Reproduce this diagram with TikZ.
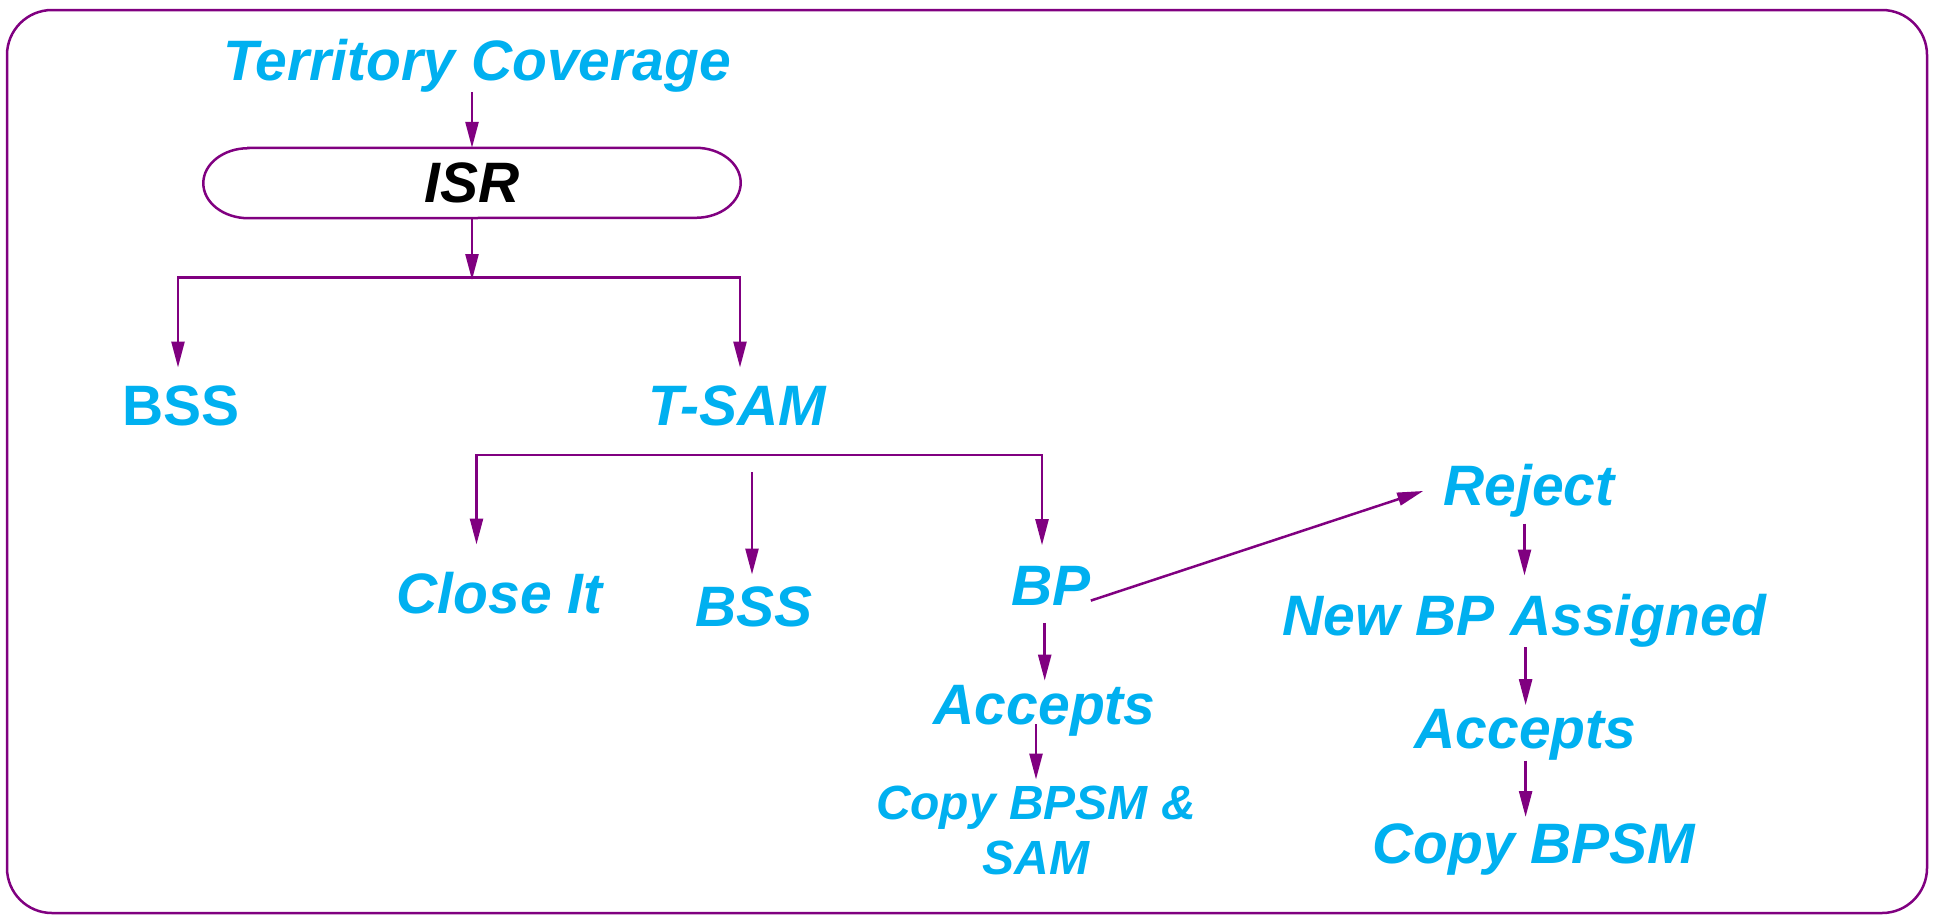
\documentclass[tikz,border=0pt]{standalone}
\usepackage{fontspec}
\setmainfont{Liberation Sans}
\usetikzlibrary{arrows.meta,calc}
\definecolor{pur}{HTML}{800080}
\definecolor{cy}{HTML}{00B0F0}
\begin{document}
\begin{tikzpicture}[x=1pt,y=1pt,
  ln/.style={draw=pur,line width=2.5pt},
  arr/.style={ln,-{Triangle[length=26pt,width=13pt]}},
  lbl/.style={text=cy,inner sep=0pt,anchor=base,font=\fontsize{57}{68}\selectfont\bfseries\itshape},
  lblup/.style={text=cy,inner sep=0pt,anchor=base,font=\fontsize{57}{68}\selectfont\bfseries},
  small/.style={text=cy,inner sep=0pt,align=center,font=\fontsize{48}{55.5}\selectfont\bfseries\itshape},
  stad/.style={inner sep=0pt,minimum width=537pt,minimum height=70pt,font=\fontsize{57}{68}\selectfont\bfseries\itshape,text=black}]
\useasboundingbox (0,0) rectangle (1934,-916);
\draw[ln,rounded corners=45pt] (7,-10) rectangle (1927,-913);

% nodes
\node[lbl] (tc) at (477,-80) {Territory Coverage};
\node[stad] (isr) at (472,-183) {ISR};
\draw[ln] ([xshift=45pt]isr.north west) -- ([xshift=-45pt]isr.north east)
  arc[start angle=90,end angle=-90,x radius=45pt,y radius=35pt]
  -- ([xshift=45pt]isr.south west)
  arc[start angle=270,end angle=90,x radius=45pt,y radius=35pt] -- cycle;
\node[lblup] (bss1) at (181,-425.5) {BSS};
\node[lbl] (tsam) at (737,-425.5) {T-SAM};
\node[lbl] (close) at (499.5,-613) {Close It};
\node[lbl] (bss2) at (754,-626.5) {BSS};
\node[lbl] (bp) at (1051,-605.6) {BP};
\node[lbl] (rej) at (1529,-505.7) {Reject};
\node[lbl] (nbp) at (1524.5,-635) {New BP Assigned};
\node[lbl] (acc2) at (1525.6,-748.6) {Accepts};
\node[lbl] (cpy2) at (1534,-863) {Copy BPSM};
\node[lbl] (acc1) at (1044.7,-724) {Accepts};
\node[small,anchor=north] (cpy1) at (1036,-785.5) {Copy BPSM \&\\SAM};

\coordinate (j1) at (472,-277.5);
\coordinate (j2) at (752,-455);
\coordinate (c2top) at ([yshift=6pt]cpy2.north);

% connectors
\draw[arr] (tc.south -| isr.north) -- (isr.north);
\draw[arr] (isr.south) -- ([yshift=-2.5pt]j1);
\draw[arr] (j1) -| ([xshift=-3pt,yshift=18pt]bss1.north);
\draw[arr] (j1) -| ([xshift=3pt,yshift=18pt]tsam.north);
\draw[arr] (j2) -| ([xshift=-23pt,yshift=27pt]close.north);
\draw[arr] (j2) -| ([xshift=-9pt,yshift=21pt]bp.north);
\draw[arr] ([yshift=-17pt]j2) -- ([yshift=12pt]bss2.north -| j2);
\draw[arr] ([yshift=5pt]bp.base east) -- ([xshift=-20pt]rej.west);
\draw[arr] ([yshift=-6pt]rej.south -| nbp.north) -- ([yshift=18pt]nbp.north);
\draw[arr] (nbp.south -| acc2.north) -- ([yshift=4pt]acc2.north);
\draw[arr] (acc2.south) -- (acc2.south |- c2top);
\draw[arr] ([yshift=-17pt]bp.south -| acc1.north) -- ([yshift=4pt]acc1.north);
\draw[arr] (acc1.base -| cpy1.north) -- ([yshift=6pt]cpy1.north);
\end{tikzpicture}
\end{document}
